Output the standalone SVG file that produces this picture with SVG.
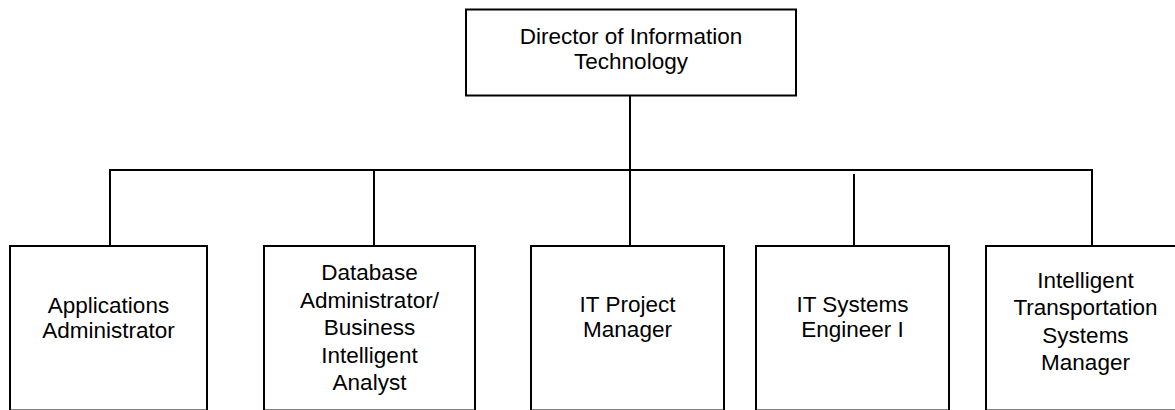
<svg xmlns="http://www.w3.org/2000/svg" width="1175" height="410" viewBox="0 0 1175 410">
  <style>
    .box { fill: #ffffff; stroke: #000000; stroke-width: 2; }
    .wire { fill: none; stroke: #000000; stroke-width: 2; }
    .label { font-family: "Liberation Sans", Arial, sans-serif; font-size: 22.5px; fill: #000000; text-anchor: middle; }
  </style>
  <rect width="1175" height="410" fill="#ffffff"/>

  <!-- reporting lines -->
  <g id="connectors">
    <line class="wire" x1="630" y1="95.5" x2="630" y2="246"/>
    <line class="wire" x1="109" y1="170" x2="1093" y2="170"/>
    <line class="wire" x1="110" y1="170" x2="110" y2="246"/>
    <line class="wire" x1="374" y1="170" x2="374" y2="246"/>
    <line class="wire" x1="854" y1="174" x2="854" y2="246"/>
    <line class="wire" x1="1092" y1="170" x2="1092" y2="246"/>
  </g>

  <g id="director">
    <rect class="box" x="466" y="9.5" width="330" height="86"/>
    <text class="label" x="631" y="43.5">Director of Information</text>
    <text class="label" x="631" y="69">Technology</text>
  </g>

  <!-- the lower boxes run off the bottom edge of the sheet -->
  <g id="applications-admin">
    <rect class="box" x="10" y="246" width="197" height="164.5"/>
    <text class="label" x="108.5" y="312.5">Applications</text>
    <text class="label" x="108.5" y="338">Administrator</text>
  </g>

  <g id="database-admin">
    <rect class="box" x="264" y="246" width="211" height="164.5"/>
    <text class="label" x="369.5" y="280">Database</text>
    <text class="label" x="369.5" y="307.5">Administrator/</text>
    <text class="label" x="369.5" y="335">Business</text>
    <text class="label" x="369.5" y="362.5">Intelligent</text>
    <text class="label" x="369.5" y="390">Analyst</text>
  </g>

  <g id="it-project-manager">
    <rect class="box" x="531" y="246" width="193" height="164.5"/>
    <text class="label" x="627.5" y="311.5">IT Project</text>
    <text class="label" x="627.5" y="337">Manager</text>
  </g>

  <g id="it-systems-engineer">
    <rect class="box" x="756" y="246" width="193" height="164.5"/>
    <text class="label" x="852.5" y="311.5">IT Systems</text>
    <text class="label" x="852.5" y="337">Engineer I</text>
  </g>

  <g id="its-manager">
    <rect class="box" x="986" y="246" width="199" height="164.5"/>
    <text class="label" x="1085.5" y="287.5">Intelligent</text>
    <text class="label" x="1085.5" y="315">Transportation</text>
    <text class="label" x="1085.5" y="342.5">Systems</text>
    <text class="label" x="1085.5" y="370">Manager</text>
  </g>
</svg>
